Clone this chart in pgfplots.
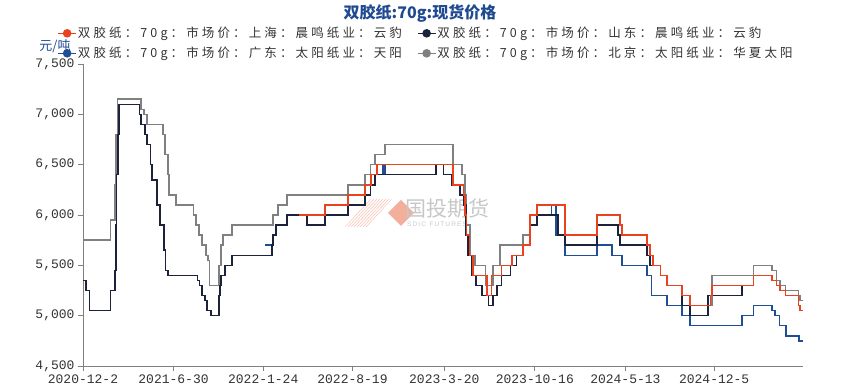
\documentclass[border=0pt]{standalone}
\usepackage{fontspec}
\setmainfont{Liberation Sans}
\newfontfamily\cjk{Noto Sans CJK SC}
\newfontfamily\cjkls[LetterSpace=25]{Noto Sans CJK SC}
\newfontfamily\mono{Liberation Mono}
\usepackage{pgfplots}
\pgfplotsset{compat=1.18}
\definecolor{cred}{RGB}{232,66,30}
\definecolor{cdark}{RGB}{28,34,60}
\definecolor{cblue}{RGB}{30,78,150}
\definecolor{cgray}{RGB}{128,128,128}
\definecolor{ctitle}{RGB}{31,73,145}
\definecolor{wm}{RGB}{242,175,155}
\begin{document}
\begin{tikzpicture}[x=1pt,y=1pt]
\path[use as bounding box] (0,0) rectangle (841,387);
% watermark
\begin{scope}
\clip (345,160) -- (370,188) -- (392,188) -- (367,160) -- cycle;
\foreach \i in {0,...,14} {\draw[wm!70,line width=0.6pt] (330+\i*3,160) -- (356+\i*3,188);}
\end{scope}
\fill[wm] (388,174) -- (401,187) -- (414,174) -- (401,161) -- cycle;
\node[anchor=west,text=black!22,font=\cjk\fontsize{21}{21}\selectfont,inner sep=0pt] at (405,178) {国投期货};
\node[anchor=west,text=black!22,font=\fontsize{6.5}{6.5}\selectfont,inner sep=0pt] at (407,163) {S\,D\,I\,C\ \ F\,U\,T\,U\,R\,E\,S};
\node[text=ctitle,font=\cjk\bfseries\fontsize{16}{16}\selectfont] at (420,374) {双胶纸:70g:现货价格};
\node[text=ctitle,font=\cjk\fontsize{13}{13}\selectfont] at (55,341) {元/吨};
\begin{axis}[
  at={(83pt,21pt)}, anchor=south west,
  scale only axis, width=720pt, height=302pt,
  xmin=0, xmax=1670, ymin=4500, ymax=7500,
  axis x line*=bottom, axis y line*=left,
  axis line style={draw=black!50, line width=0.8pt},
  tick style={draw=black!50, line width=0.8pt},
  tick align=outside, major tick length=5pt,
  ytick={4500,5000,5500,6000,6500,7000,7500},
  scaled y ticks=false,
  /pgf/number format/assume math mode=true,
  /pgf/number format/1000 sep={,},
  xtick={0,210,418,625,838,1048,1258,1464},
  xticklabels={2020-12-2,2021-6-30,2022-1-24,2022-8-19,2023-3-20,2023-10-16,2024-5-13,2024-12-5},
  ticklabel style={font=\mono\fontsize{13}{13}\selectfont, text=black!80},
  legend columns=2,
  legend cell align=left,
  legend style={at={(axis description cs:-0.04,1.142)}, anchor=north west, draw=none, fill=none,
    font=\cjkls\fontsize{12.5}{12.5}\selectfont, text=black!80,
    nodes={inner sep=1pt, text height=13pt, text depth=5pt},
    row sep=0pt, column sep=0pt},
  legend image code/.code={\draw[#1,mark repeat=2,mark phase=2] plot coordinates {(0pt,0pt)(9pt,0pt)(18pt,0pt)};},
  const plot,
  every axis plot/.append style={line width=1.5pt},
]
\addlegendimage{cred, mark=*, mark size=3.5pt, line width=1.5pt}
\addlegendentry{\makebox[338pt][l]{双胶纸：70g：市场价：上海：晨鸣纸业：云豹}}
\addlegendimage{cdark, mark=*, mark size=3.5pt, line width=1.5pt}
\addlegendentry{双胶纸：70g：市场价：山东：晨鸣纸业：云豹}
\addlegendimage{cblue, mark=*, mark size=3.5pt, line width=1.5pt}
\addlegendentry{\makebox[338pt][l]{双胶纸：70g：市场价：广东：太阳纸业：天阳}}
\addlegendimage{cgray, mark=*, mark size=3.5pt, line width=1.5pt}
\addlegendentry{双胶纸：70g：市场价：北京：太阳纸业：华夏太阳}
% gray: Beijing
\addplot[cgray, forget plot] coordinates {
(0,5750)(64,5950)(74,6300)(77,6800)(80,7150)(135,7050)(142,7000)(148,6900)(186,6800)(190,6600)(197,6400)(199,6200)(216,6100)(256,6000)(262,5900)(269,5800)(276,5700)(285,5600)(290,5550)(293,5300)(316,5500)(320,5700)(325,5800)(346,5900)(441,6000)(452,6100)(473,6200)(615,6300)(654,6400)(667,6500)(677,6600)(701,6700)(858,6500)(879,6400)(886,6200)(890,5900)(898,5600)(909,5500)(933,5300)(951,5500)(967,5700)(1021,5800)(1037,6000)(1053,6100)(1118,5800)(1192,6000)(1246,5900)(1250,5800)(1308,5700)(1315,5600)(1322,5500)(1339,5400)(1354,5300)(1389,5200)(1408,5100)(1459,5400)(1555,5500)(1598,5450)(1609,5350)(1617,5300)(1629,5250)(1659,5200)(1663,5150)(1669,5150)
};
% blue: Guangdong
\addplot[cblue, forget plot] coordinates {
(422,5700)(441,5800)(448,5900)(473,6000)(520,5900)(561,6000)(615,6100)(654,6200)(667,6300)(677,6400)(696,6500)(701,6400)(819,6500)(836,6400)(855,6300)(875,6200)(884,6100)(888,5800)(893,5600)(902,5400)(912,5300)(925,5200)(940,5100)(951,5200)(960,5300)(971,5400)(991,5500)(1006,5600)(1021,5700)(1037,5900)(1053,6000)(1087,6100)(1097,5800)(1118,5600)(1192,5700)(1227,5600)(1250,5500)(1308,5400)(1319,5200)(1355,5100)(1389,5000)(1408,4900)(1528,5000)(1555,5100)(1598,5050)(1605,5000)(1615,4900)(1631,4800)(1661,4750)(1669,4750)
};
% dark: Shandong
\addplot[cdark, forget plot] coordinates {
(0,5350)(7,5250)(15,5050)(64,5250)(74,5450)(76,5900)(78,6400)(81,6800)(84,7100)(131,7000)(135,6900)(144,6800)(148,6700)(157,6500)(160,6350)(172,6100)(179,5900)(188,5650)(191,5450)(197,5400)(266,5350)(270,5300)(276,5200)(283,5150)(288,5050)(297,5000)(315,5200)(318,5300)(320,5400)(329,5500)(346,5600)(438,5700)(441,5800)(448,5900)(473,6000)(520,5900)(561,6000)(615,6100)(654,6200)(667,6300)(677,6400)(819,6500)(836,6400)(855,6300)(875,6200)(884,6100)(888,5800)(893,5600)(902,5400)(912,5300)(925,5200)(940,5100)(951,5200)(960,5300)(971,5400)(991,5500)(1006,5600)(1021,5700)(1037,5900)(1053,6000)(1102,5800)(1118,5700)(1192,5900)(1241,5800)(1246,5700)(1308,5600)(1315,5500)(1339,5400)(1354,5300)(1389,5100)(1408,5000)(1450,5200)(1528,5300)(1555,5400)(1598,5350)(1609,5300)(1617,5250)(1629,5200)(1659,5100)(1663,5050)(1669,5050)
};
% red: Shanghai
\addplot[cred, forget plot] coordinates {
(500,6000)(561,6100)(615,6200)(654,6300)(668,6400)(682,6500)(858,6300)(882,6200)(886,6000)(890,5800)(896,5600)(905,5400)(937,5200)(948,5400)(971,5500)(995,5600)(1021,5700)(1037,6000)(1053,6100)(1118,5800)(1192,6000)(1246,5900)(1250,5800)(1308,5700)(1315,5600)(1322,5500)(1339,5400)(1354,5300)(1389,5200)(1408,5100)(1455,5200)(1459,5300)(1555,5400)(1598,5350)(1609,5300)(1617,5250)(1629,5200)(1659,5100)(1663,5050)(1669,5050)
};
\end{axis}
\end{tikzpicture}
\end{document}
